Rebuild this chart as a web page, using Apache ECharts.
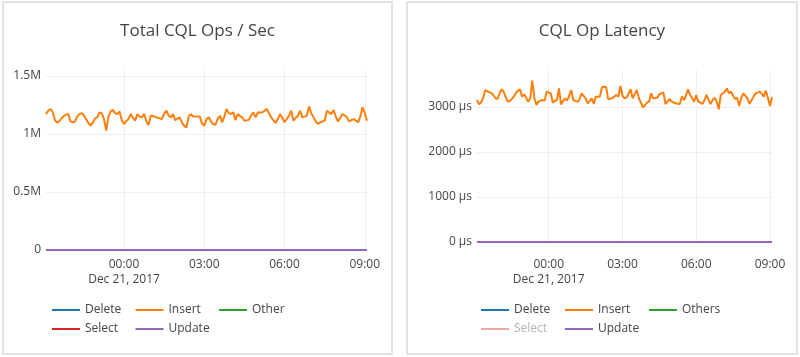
<!DOCTYPE html>
<html><head><meta charset="utf-8">
<script src="https://cdn.jsdelivr.net/npm/echarts@6/dist/echarts.min.js"></script>
<style>html,body{margin:0;padding:0;background:#fff}#c{width:800px;height:357px}</style>
</head><body><div id="c"></div>
<script>
// ---- data (5-minute samples, Dec 20 21:05 -> Dec 21 09:05) ----
const N_POINTS = 145;
const START_MIN = 21 * 60 + 5;
const STEP_MIN = 5;
const tickLabels = ['00:00', '03:00', '06:00', '09:00'];
const dateLabel = 'Dec 21, 2017';

const opsTitle = 'Total CQL Ops / Sec';
const latTitle = 'CQL Op Latency';
const opsSeriesNames = ['Delete', 'Insert', 'Other', 'Select', 'Update'];
const latSeriesNames = ['Delete', 'Insert', 'Others', 'Select', 'Update'];
const seriesColors = ['#1f77b4', '#ff7f0e', '#2ca02c', '#d62728', '#9467bd'];

// Insert ops/sec (thousands)
const opsInsertK = [1172,1200,1216,1190,1120,1098,1112,1135,1155,1168,1172,1110,1100,1108,1150,1172,1180,1160,1129,1095,
1072,1100,1135,1144,1187,1178,1130,1029,1150,1195,1208,1180,1172,1194,1120,1086,1110,1130,1172,1140,
1115,1172,1150,1144,1172,1110,1079,1158,1155,1148,1140,1135,1129,1175,1201,1160,1144,1172,1118,1135,
1144,1100,1070,1057,1150,1172,1151,1150,1152,1151,1090,1072,1129,1144,1110,1086,1079,1130,1158,1100,
1150,1216,1180,1172,1187,1120,1172,1155,1144,1115,1118,1122,1160,1187,1144,1187,1185,1187,1200,1216,
1180,1144,1120,1094,1130,1172,1140,1101,1130,1158,1201,1115,1140,1158,1201,1144,1150,1158,1237,1180,
1144,1110,1086,1101,1108,1115,1201,1185,1172,1208,1150,1108,1140,1172,1160,1144,1108,1120,1129,1115,
1101,1150,1230,1180,1115];

// Insert latency (microseconds)
const latInsert = [3156,3059,3100,3200,3378,3350,3330,3310,3260,3193,3178,3300,3393,3341,3220,3119,3133,3180,3230,3310,
3363,3393,3230,3282,3200,3119,3193,3585,3200,3044,3119,3140,3156,3141,3341,3320,3304,3096,3140,3156,
3415,3059,3130,3193,3141,3250,3378,3156,3130,3119,3160,3304,3250,3193,3081,3130,3193,3067,3230,3230,
3230,3437,3450,3452,3178,3185,3193,3230,3267,3230,3467,3250,3193,3208,3300,3393,3193,3280,3378,3193,
3100,2993,3037,3100,3119,3304,3193,3200,3208,3282,3300,3326,3067,3120,3178,3119,3100,3081,3070,3067,
3230,3156,3250,3393,3267,3200,3119,3267,3119,3100,3067,3150,3267,3156,3067,3150,3208,3119,2948,3267,
3300,3341,3415,3304,3341,3250,3178,3208,3022,3200,3304,3250,3193,3067,3150,3230,3300,3319,3341,3290,
3230,3363,3200,3022,3215];

// Delete / Other / Select / Update read as flat zero in both charts
const zeroSeries = new Array(N_POINTS).fill(0);

// ---- build ----
const times = [];
for (let i = 0; i < N_POINTS; i++) {
  const m = (START_MIN + i * STEP_MIN) % 1440;
  times.push(String(Math.floor(m / 60)).padStart(2, '0') + ':' + String(m % 60).padStart(2, '0'));
}
const opsInsert = opsInsertK.map(v => v * 1000);

const FONT = '"Open Sans", "Noto Sans", sans-serif';
const TXT = '#444';
const GRIDC = '#eeeeee';

function xAxis(gridIndex, margin) {
  const showTick = (idx, val) => tickLabels.indexOf(val) >= 0;
  return {
    type: 'category', gridIndex, data: times, boundaryGap: false,
    axisLine: { show: false }, axisTick: { show: false },
    axisLabel: {
      interval: showTick, margin, color: TXT, fontSize: 12, fontFamily: FONT, lineHeight: 15,
      formatter: v => v === '00:00' ? v + '\n' + dateLabel : v
    },
    splitLine: { show: true, interval: showTick, lineStyle: { color: GRIDC, width: 1 } }
  };
}
function yAxis(gridIndex, max, interval, fmt) {
  return {
    type: 'value', gridIndex, min: 0, max, interval,
    axisLine: { show: false }, axisTick: { show: false },
    axisLabel: { margin: 5, color: TXT, fontSize: 12, fontFamily: FONT, formatter: fmt, showMaxLabel: false },
    splitLine: { show: true, showMaxLine: false, lineStyle: { color: GRIDC, width: 1 } }
  };
}
function makeSeries(names, insertData, axisIdx) {
  return names.map((n, i) => ({
    name: n, type: 'line', xAxisIndex: axisIdx, yAxisIndex: axisIdx,
    data: i === 1 ? insertData : zeroSeries,
    showSymbol: false, symbol: 'none', animation: false,
    lineStyle: { width: 2, color: seriesColors[i] },
    itemStyle: { color: seriesColors[i] },
    z: 2 + i
  }));
}
// one legend component per entry, laid out in Plotly-like fixed columns
function legendItems(names, x0, y0, colW, rowH, perRow, faded) {
  return names.map((n, i) => {
    const item = faded && faded.indexOf(n) >= 0
      ? { name: n, itemStyle: { color: '#efa9a9' }, textStyle: { color: '#b4b4b4' } }
      : n;
    return {
      left: x0 + (i % perRow) * colW, top: y0 + Math.floor(i / perRow) * rowH,
      orient: 'horizontal', icon: 'rect', itemWidth: 28, itemHeight: 2, itemGap: 0,
      padding: 0, selectedMode: false, data: [item],
      textStyle: { color: TXT, fontSize: 12, fontFamily: FONT }
    };
  });
}

const chart = echarts.init(document.getElementById('c'), null, { renderer: 'canvas' });
chart.setOption({
  animation: false,
  backgroundColor: '#fff',
  grid: [
    { left: 46, right: 433, top: 70, bottom: 107 },
    { left: 477, right: 28, top: 70, bottom: 115 }
  ],
  xAxis: [xAxis(0, 7), xAxis(1, 15)],
  yAxis: [
    yAxis(0, 1552000, 500000, v => v === 0 ? '0' : (v / 1e6) + 'M'),
    yAxis(1, 3822, 1000, v => v + ' μs')
  ],
  legend: legendItems(opsSeriesNames, 52, 304, 83.5, 19, 3)
    .concat(legendItems(latSeriesNames, 481, 304, 84, 19, 3, ['Select'])),
  graphic: [
    { type: 'rect', shape: { x: 3, y: 2, width: 389, height: 352 }, style: { fill: 'none', stroke: '#e3e3e3', lineWidth: 2 }, silent: true },
    { type: 'rect', shape: { x: 407, y: 2, width: 390, height: 352 }, style: { fill: 'none', stroke: '#e3e3e3', lineWidth: 2 }, silent: true },
    { type: 'text', x: 197.5, y: 31, style: { text: opsTitle, align: 'center', verticalAlign: 'middle', fill: TXT, font: '17px ' + FONT } },
    { type: 'text', x: 602, y: 31, style: { text: latTitle, align: 'center', verticalAlign: 'middle', fill: TXT, font: '17px ' + FONT } }
  ],
  series: makeSeries(opsSeriesNames, opsInsert, 0).concat(makeSeries(latSeriesNames, latInsert, 1))
});
</script>
</body></html>
